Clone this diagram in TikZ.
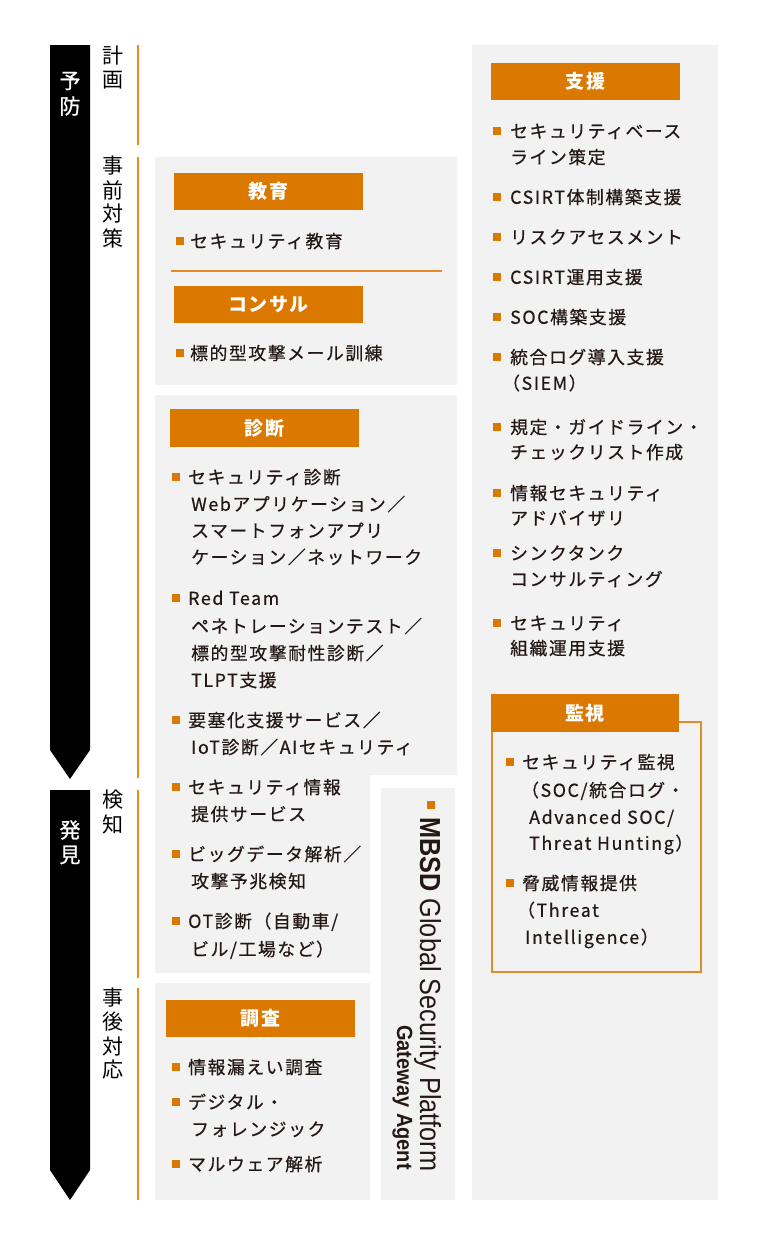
\documentclass[tikz,border=0pt]{standalone}
\usepackage{graphicx}
\usepackage{fontspec}
\setmainfont{Noto Sans CJK JP}
\newfontfamily\jpbody{Noto Sans CJK JP}[LetterSpace=9, FakeBold=0.6]
\newfontfamily\jphead{Noto Sans CJK JP}[LetterSpace=8]
\newfontfamily\jpstage{Noto Sans CJK JP}
\newfontfamily\jpphase{Noto Sans CJK JP}[FakeBold=0.8]
\newfontfamily\gspfont{Liberation Sans}
\definecolor{mborange}{HTML}{DB7800}
\definecolor{mbline}{HTML}{E38B25}
\definecolor{mbgray}{HTML}{F2F2F2}
\definecolor{mbtext}{HTML}{231815}
\newcommand{\hdr}[6]{\fill[hbox] (#2,#3) rectangle (#4,#5); \node[htext] (#1) at ({(#2+#4)/2},{(#3+#5)/2}) {#6};}
\newcommand{\itm}[5]{\fill[bul] ({#2-4},{#4-4}) rectangle ({#2+4},{#4+4}); \node[ln] (#1) at (#3,#4) {#5};}
\newcommand{\cnt}[4]{\node[ln] (#1) at (#2,#3) {#4};}
\begin{document}
\begin{tikzpicture}[x=1pt,y=-1pt,
 panel/.style={fill=mbgray, draw=none},
 hbox/.style={fill=mborange, draw=none},
 htext/.style={text=white, font=\jphead\bfseries\fontsize{19}{22}\selectfont, inner sep=0},
 ln/.style={anchor=west, inner sep=0, text=mbtext, font=\jpbody\fontsize{17.8}{20}\selectfont, text height=15.7pt, text depth=2.1pt},
 stg/.style={inner sep=0, text=black, font=\jpstage\fontsize{21}{24}\selectfont},
 phase/.style={inner sep=0, text=white, font=\jpphase\fontsize{21}{24}\selectfont},
 bul/.style={fill=mborange},
 vline/.style={draw=mbline, line width=2pt},
 arrowshape/.style={fill=black},
]
\useasboundingbox[fill=white] (0,0) rectangle (768,1248);

% phase arrows
\fill[arrowshape] (50,45) -- (90,45) -- (90,750) -- (70,779) -- (50,750) -- cycle;
\fill[arrowshape] (50,790) -- (90,790) -- (90,1170) -- (70,1200) -- (50,1170) -- cycle;
\foreach \c [count=\i] in {予,防} \node[phase] (yobou\i) at (70,{81+25*(\i-1)}) {\c};
\foreach \c [count=\i] in {発,見} \node[phase] (hakken\i) at (70,{830+25*(\i-1)}) {\c};

% stage labels
\foreach \c [count=\i] in {計,画} \node[stg] (keikaku\i) at (113,{56+24*(\i-1)}) {\c};
\foreach \c [count=\i] in {事,前,対,策} \node[stg] (jizen\i) at (113,{166+24*(\i-1)}) {\c};
\foreach \c [count=\i] in {検,知} \node[stg] (kenchi\i) at (113,{800+24*(\i-1)}) {\c};
\foreach \c [count=\i] in {事,後,対,応} \node[stg] (jigo\i) at (113,{998+24*(\i-1)}) {\c};

% orange vertical lines
\draw[vline] (137.5,45) -- (137.5,145);
\draw[vline] (137.5,157) -- (137.5,778);
\draw[vline] (137.5,790) -- (137.5,978);
\draw[vline] (137.5,988) -- (137.5,1200);

% panels
\fill[panel] (155,157) rectangle (457,385);
\fill[panel] (155,395) -- (457,395) -- (457,775) -- (370,775) -- (370,973) -- (155,973) -- cycle;
\fill[panel] (155,983) rectangle (370,1200);
\fill[panel] (381,788) rectangle (455,1200);
\fill[panel] (472,45) rectangle (718,1200);

% education / consulting
\hdr{kyoiku}{174}{173}{363}{210}{教育}
\itm{kyoiku1}{180}{190}{241}{セキュリティ教育}
\draw[draw=mbline, line width=1.5pt] (171,271) -- (442,271);
\hdr{consul}{174}{286}{363}{323}{コンサル}
\itm{consul1}{180}{190}{353}{標的型攻撃メール訓練}

% diagnosis
\hdr{shindan}{170}{409}{359}{447}{診断}
\itm{sd1}{176}{188}{477}{セキュリティ診断}
\cnt{sd1b}{191}{504}{Webアプリケーション／}
\cnt{sd1c}{191}{530.5}{スマートフォンアプリ}
\cnt{sd1d}{191}{557}{ケーション／ネットワーク}
\itm{sd2}{176}{188}{598}{Red Team}
\cnt{sd2b}{191}{626}{ペネトレーションテスト／}
\cnt{sd2c}{191}{653}{標的型攻撃耐性診断／}
\cnt{sd2d}{191}{680}{TLPT支援}
\itm{sd3}{176}{188}{720}{要塞化支援サービス／}
\cnt{sd3b}{191}{747}{IoT診断／AIセキュリティ}
\itm{sd4}{176}{188}{787}{セキュリティ情報}
\cnt{sd4b}{191}{814}{提供サービス}
\itm{sd5}{176}{188}{854}{ビッグデータ解析／}
\cnt{sd5b}{191}{881}{攻撃予兆検知}
\itm{sd6}{176}{188}{921}{OT診断（自動車/}
\cnt{sd6b}{191}{949}{ビル/工場など）}

% investigation
\hdr{chosa}{166}{1000}{355}{1037}{調査}
\itm{cs1}{176}{188}{1067}{情報漏えい調査}
\itm{cs2}{176}{188}{1102}{デジタル・}
\cnt{cs2b}{191}{1129}{フォレンジック}
\itm{cs3}{176}{188}{1164}{マルウェア解析}

% GSP
\fill[bul] (427,801) rectangle (435,809);
\node[rotate=-90, anchor=base west, inner sep=0, text=mbtext, font=\gspfont\fontsize{29}{30}\selectfont] (gsp) at (420,817) {\scalebox{0.872}[1]{\textbf{MBSD} Global Security Platform}};
\node[rotate=-90, anchor=base east, inner sep=0, text=mbtext, font=\gspfont\bfseries\fontsize{22}{24}\selectfont] (gwa) at (397,1170) {\scalebox{0.91}[1]{Gateway Agent}};

% support
\hdr{shien}{491}{63}{680}{100}{支援}
\itm{sh1}{497}{510}{131}{セキュリティベース}
\cnt{sh1b}{510}{157}{ライン策定}
\itm{sh2}{497}{510}{197}{CSIRT体制構築支援}
\itm{sh3}{497}{510}{237}{リスクアセスメント}
\itm{sh4}{497}{510}{277}{CSIRT運用支援}
\itm{sh5}{497}{510}{317}{SOC構築支援}
\itm{sh6}{497}{510}{357}{統合ログ導入支援}
\cnt{sh6b}{502}{383}{（SIEM）}
\itm{sh7}{497}{510}{427}{規定・ガイドライン・}
\cnt{sh7b}{510}{452}{チェックリスト作成}
\itm{sh8}{497}{510}{493}{情報セキュリティ}
\cnt{sh8b}{510}{518}{アドバイザリ}
\itm{sh9}{497}{510}{553}{シンクタンク}
\cnt{sh9b}{510}{579}{コンサルティング}
\itm{sh10}{497}{510}{623}{セキュリティ}
\cnt{sh10b}{510}{648}{組織運用支援}

% monitoring
\draw[draw=mbline, line width=2pt] (679,722) -- (701,722) -- (701,972) -- (492,972) -- (492,732);
\hdr{kanshi}{491}{694}{679}{732}{監視}
\itm{ks1}{510}{522}{762}{セキュリティ監視}
\cnt{ks1b}{521}{790}{（SOC/統合ログ・}
\cnt{ks1c}{529}{817}{Advanced SOC/}
\cnt{ks1d}{529}{843}{Threat Hunting）}
\itm{ks2}{510}{522}{883}{脅威情報提供}
\cnt{ks2b}{517}{910}{（Threat}
\cnt{ks2c}{525}{937}{Intelligence）}
\end{tikzpicture}
\end{document}
